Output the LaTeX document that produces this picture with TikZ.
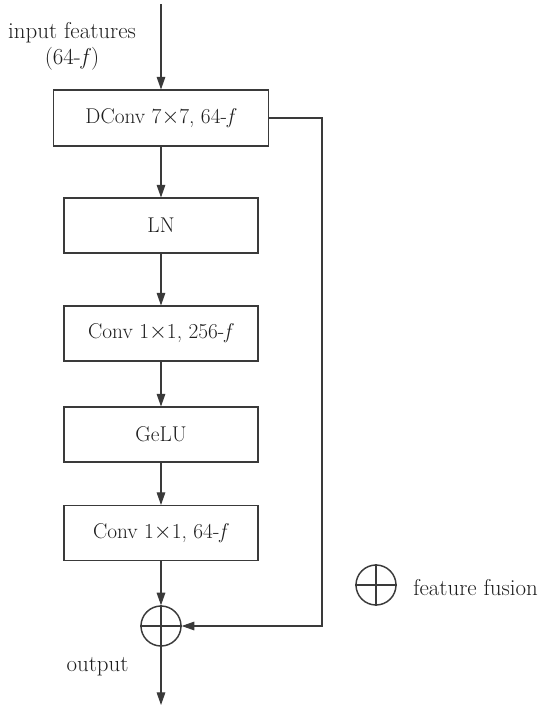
\documentclass[tikz,border=0pt]{standalone}
\usetikzlibrary{arrows.meta}
\definecolor{ln}{HTML}{3A3A3A}
\definecolor{txt}{HTML}{1E1E1E}
\begin{document}
\begin{tikzpicture}[x=0.75pt,y=-0.75pt,
  every node/.style={font=\fontsize{16}{19}\selectfont, text=txt},
  box/.style={draw=ln, line width=0.8pt, minimum width=145.5pt, minimum height=41.25pt, inner sep=0pt},
  fus/.style={circle, draw=ln, line width=1.1pt, minimum size=30pt, inner sep=0pt},
  arr/.style={draw=ln, line width=0.8pt, -{Triangle[length=9.5pt,width=6.5pt]}},
  lbl/.style={inner sep=0pt, font=\fontsize{17.2}{20}\selectfont}]
\useasboundingbox (0,0) rectangle (541,711);

\node[box, minimum width=161.25pt, minimum height=42pt] (dconv) at (161,118) {DConv 7$\times$7, 64-\textit{f}};
\node[box] (ln) at (161,225.5) {LN};
\node[box] (c256) at (161,333.5) {Conv 1$\times$1, 256-\textit{f}};
\node[box] (gelu) at (161,434.5) {GeLU};
\node[box] (c64) at (161,533) {Conv 1$\times$1, 64-\textit{f}};
\node[fus] (sum) at (161,626) {};
\draw[ln, line width=1.1pt] (sum.north) -- (sum.south) (sum.west) -- (sum.east);

\coordinate (in) at (161,4);
\coordinate (out) at (161,705);
\coordinate (skip) at (322,118);

\draw[arr] (in) -- (dconv);
\draw[arr] (dconv) -- (ln);
\draw[arr] (ln) -- (c256);
\draw[arr] (c256) -- (gelu);
\draw[arr] (gelu) -- (c64);
\draw[arr] (c64) -- (sum);
\draw[arr] (sum) -- (out);
\draw[arr] (dconv.east) -- (skip) |- (sum.east);

\node[lbl, anchor=base] (inlbl) at (72,38) {input features};
\node[lbl, anchor=base] (inlbl2) at (72,64) {(64-\textit{f})};
\node[lbl, anchor=base] (outlbl) at (97.5,671) {output};

\node[fus] (leg) at (376,585) {};
\draw[ln, line width=1.1pt] (leg.north) -- (leg.south) (leg.west) -- (leg.east);
\node[lbl, anchor=base west] (legtxt) at (413,595) {feature fusion};
\end{tikzpicture}
\end{document}
